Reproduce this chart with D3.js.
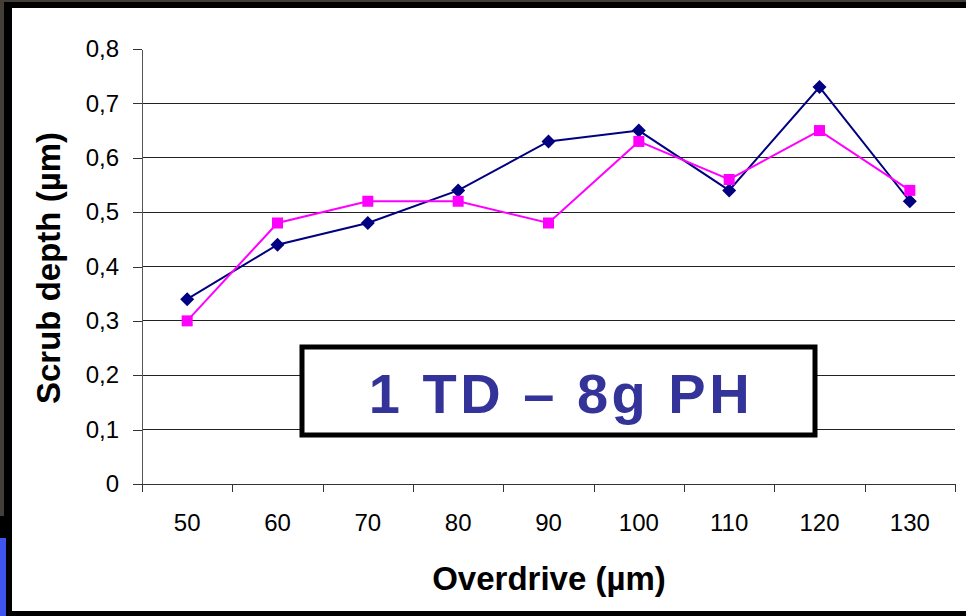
<!DOCTYPE html>
<html>
<head>
<meta charset="utf-8">
<script src="https://cdn.jsdelivr.net/npm/d3@7"></script>
<style>
  body { margin: 0; background: #433e38; }
  svg { display: block; }
  text { font-family: "Liberation Sans", Arial, sans-serif; }
</style>
</head>
<body>
<svg id="chart" width="966" height="616"></svg>
<script>
// data
const categories = [50, 60, 70, 80, 90, 100, 110, 120, 130];
const blueValues = [0.34, 0.44, 0.48, 0.54, 0.63, 0.65, 0.54, 0.73, 0.52];
const pinkValues = [0.30, 0.48, 0.52, 0.52, 0.48, 0.63, 0.56, 0.65, 0.54];
const yTicks = [0, 0.1, 0.2, 0.3, 0.4, 0.5, 0.6, 0.7, 0.8];
const yTitle = "Scrub depth (µm)";
const xTitle = "Overdrive (µm)";
const boxLabel = "1 TD – 8g PH";

let svg = d3.select("#chart");
let width = 966, height = 616;

// slide frame around the chart
svg.append("rect").attr("x", 4).attr("y", 2).attr("width", width).attr("height", height).attr("fill", "#000");
svg.append("rect").attr("x", 0).attr("y", 516).attr("width", 6).attr("height", 22).attr("fill", "#000");
svg.append("rect").attr("x", 0).attr("y", 538).attr("width", 6).attr("height", 78).attr("fill", "#3f55f2");
svg.append("rect").attr("x", 12).attr("y", 8).attr("width", width - 12).attr("height", 603).attr("fill", "#fff");

let x = d3.scaleBand()
    .domain(categories)
    .range([142, 955]);

let y = d3.scaleLinear()
    .domain([0, 0.8])
    .range([484, 49]);

let fmt = d => d === 0 ? "0" : d3.format(".1f")(d).replace(".", ",");

// gridlines
svg.append("g")
    .selectAll("line")
    .data(yTicks.filter(d => d > 0 && d < 0.8))
    .join("line")
    .attr("x1", 142).attr("x2", 955)
    .attr("y1", d => y(d)).attr("y2", d => y(d))
    .attr("stroke", "#222")
    .attr("stroke-width", 1)
    .attr("shape-rendering", "crispEdges");

// y axis
let yAxis = svg.append("g")
    .attr("transform", "translate(142,0)")
    .call(d3.axisLeft(y).tickValues(yTicks).tickFormat(fmt).tickSize(9).tickSizeOuter(0).tickPadding(14));
yAxis.select(".domain").attr("stroke", "#555").attr("shape-rendering", "crispEdges");
yAxis.selectAll(".tick line").attr("stroke", "#333").attr("shape-rendering", "crispEdges");
yAxis.selectAll("text").attr("font-size", 24).attr("fill", "#000").style("font-family", "Liberation Sans, Arial, sans-serif");

// x axis (labels centred in bands, ticks between categories)
let xAxis = svg.append("g")
    .attr("transform", "translate(0,484)")
    .call(d3.axisBottom(x).tickSize(0).tickPadding(30).tickSizeOuter(0));
xAxis.select(".domain").attr("stroke", "#333").attr("shape-rendering", "crispEdges");
xAxis.selectAll("text").attr("font-size", 24).attr("fill", "#000").style("font-family", "Liberation Sans, Arial, sans-serif");

let edges = categories.map(c => x(c)).concat([x.range()[1]]);
svg.append("g")
    .selectAll("line")
    .data(edges)
    .join("line")
    .attr("x1", d => Math.round(d) + 0.5).attr("x2", d => Math.round(d) + 0.5)
    .attr("y1", 484).attr("y2", 492)
    .attr("stroke", "#333");

// lines
let line = d3.line()
    .x((d, i) => x(categories[i]) + x.bandwidth() / 2)
    .y(d => y(d));

svg.append("path")
    .datum(blueValues)
    .attr("d", line)
    .attr("fill", "none")
    .attr("stroke", "#000080")
    .attr("stroke-width", 2);

svg.append("path")
    .datum(pinkValues)
    .attr("d", line)
    .attr("fill", "none")
    .attr("stroke", "#ff00ff")
    .attr("stroke-width", 2);

// markers
svg.append("g")
    .selectAll("path")
    .data(blueValues)
    .join("path")
    .attr("transform", (d, i) => "translate(" + (x(categories[i]) + x.bandwidth() / 2) + "," + y(d) + ")")
    .attr("d", "M0,-7L7,0L0,7L-7,0Z")
    .attr("fill", "#000080");

svg.append("g")
    .selectAll("rect")
    .data(pinkValues)
    .join("rect")
    .attr("x", (d, i) => x(categories[i]) + x.bandwidth() / 2 - 5.5)
    .attr("y", d => y(d) - 5.5)
    .attr("width", 11)
    .attr("height", 11)
    .attr("fill", "#ff00ff");

// annotation box
svg.append("rect")
    .attr("x", 302).attr("y", 347)
    .attr("width", 513).attr("height", 88)
    .attr("fill", "#fff")
    .attr("stroke", "#000")
    .attr("stroke-width", 5);

svg.append("text")
    .attr("x", 561).attr("y", 413)
    .attr("text-anchor", "middle")
    .attr("font-size", 56)
    .attr("font-weight", "bold")
    .attr("letter-spacing", 3.5)
    .attr("fill", "#333399")
    .text(boxLabel);

// axis titles
svg.append("text")
    .attr("transform", "translate(60,268) rotate(-90)")
    .attr("text-anchor", "middle")
    .attr("font-size", 33)
    .attr("font-weight", "bold")
    .attr("fill", "#000")
    .text(yTitle);

svg.append("text")
    .attr("x", 549).attr("y", 590)
    .attr("text-anchor", "middle")
    .attr("font-size", 33)
    .attr("font-weight", "bold")
    .attr("fill", "#000")
    .text(xTitle);
</script>
</body>
</html>
